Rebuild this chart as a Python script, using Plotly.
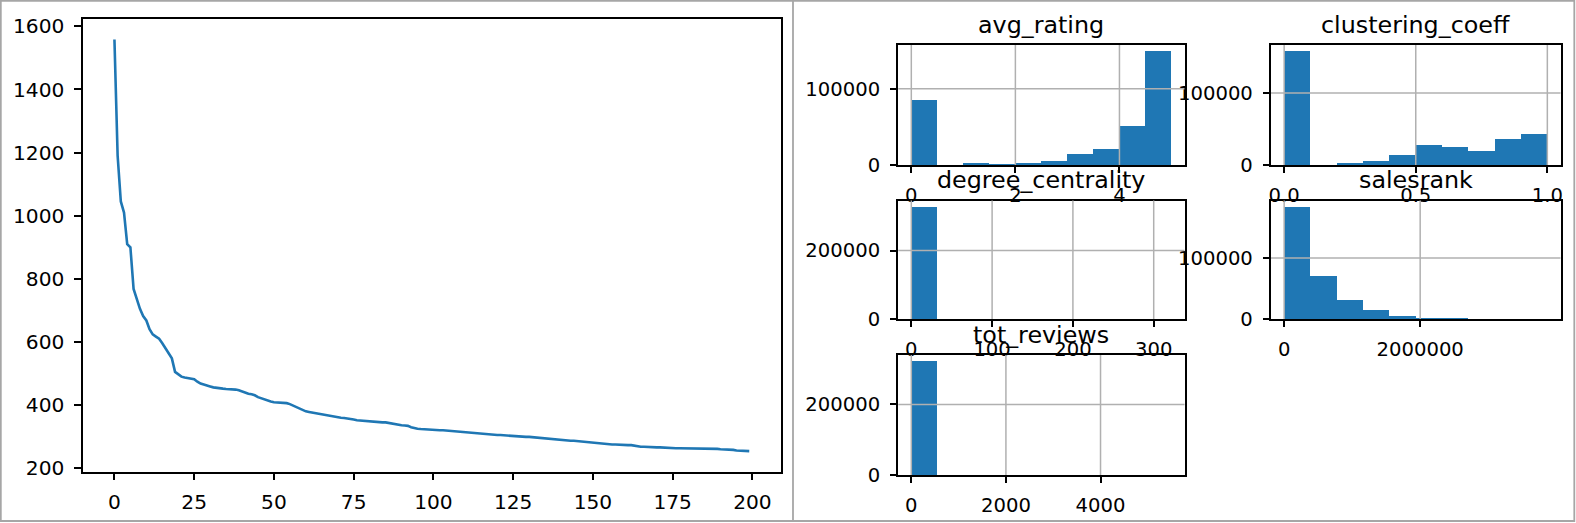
import plotly.graph_objects as go

# ---------------- data ----------------
line_x = list(range(200))
line_y = [
    1558, 1190, 1045, 1010, 910, 900, 768, 735, 705, 682,
    668, 640, 624, 617, 610, 596, 580, 566, 548, 505,
    498, 490, 487, 486, 485, 482, 474, 468, 465, 463,
    459, 456, 454, 453, 452, 451, 451, 450, 449, 447,
    443, 438, 436, 434, 431, 425, 421, 417, 413, 411,
    409, 408, 408, 408, 406, 403, 398, 393, 388, 383,
    380, 378, 376, 374, 373, 371, 369, 367, 364, 362,
    361, 360, 359, 358, 357, 354, 352, 351, 350, 348,
    347, 346, 345, 345, 345, 345, 343, 340, 339, 338,
    336, 335, 334, 330, 327, 325, 324, 323, 323, 322,
    321, 321, 320, 320, 319, 318, 317, 316, 315, 314,
    313, 312, 311, 310, 309, 308, 308, 307, 307, 306,
    305, 305, 304, 303, 302, 302, 301, 300, 300, 299,
    299, 298, 298, 297, 296, 295, 293, 292, 290, 289,
    289, 288, 288, 287, 287, 286, 284, 282, 281, 280,
    279, 278, 277, 277, 276, 276, 275, 275, 274, 274,
    274, 273, 273, 271, 269, 268, 268, 267, 267, 266,
    266, 266, 265, 265, 264, 264, 263, 263, 263, 262,
    262, 262, 262, 262, 262, 261, 261, 261, 261, 261,
    260, 260, 260, 259, 258, 256, 256, 255, 255, 254,
]
line_xticks = [0, 25, 50, 75, 100, 125, 150, 175, 200]
line_yticks = [200, 400, 600, 800, 1000, 1200, 1400, 1600]

hist_names = ["avg_rating", "clustering_coeff", "degree_centrality", "salesrank", "tot_reviews"]
hist_min = [0, 0, 0, 0, 0]
hist_max = [5, 1, 322, 3870000, 5500]
avg_rating_counts = [85600, 0, 2500, 300, 2600, 5200, 13900, 20900, 51700, 150000]
clustering_coeff_counts = [159000, 0, 3200, 5500, 14300, 27700, 25300, 19400, 36000, 43800]
degree_centrality_counts = [330000, 0, 0, 0, 0, 0, 0, 0, 0, 0]
salesrank_counts = [185000, 71000, 32200, 16100, 6100, 2800, 2500, 0, 0, 0]
tot_reviews_counts = [324000, 0, 0, 0, 0, 0, 0, 0, 0, 0]
hist_counts = [avg_rating_counts, clustering_coeff_counts, degree_centrality_counts,
               salesrank_counts, tot_reviews_counts]
hist_xticks = [[0, 2, 4], [0.0, 0.5, 1.0], [0, 100, 200, 300], [0, 2000000], [0, 2000, 4000]]
hist_yticks = [[0, 100000], [0, 100000], [0, 200000], [0, 100000], [0, 200000]]
hist_xfmt = ["d", ".1f", "d", "d", "d"]

# ---------------- layout geometry (pixels) ----------------
W, H = 1576, 523
BLUE = "#1f77b4"
FONT = "DejaVu Sans"
LEFT_TICKFS = 20.2
TICKFS = 19.6
TITLEFS = 23.8


def xd(a, b):
    return [a / W, b / W]


def yd(top, bottom):
    return [1 - bottom / H, 1 - top / H]


main_dom = (xd(82.7, 781), yd(19, 471.7))
hist_doms = [
    (xd(898.3, 1184.5), yd(45, 165)),
    (xd(1271, 1560.5), yd(45, 165)),
    (xd(898.3, 1184.5), yd(200.5, 319)),
    (xd(1271, 1560.5), yd(200.5, 319)),
    (xd(898.3, 1184.5), yd(355, 475)),
]

fig = go.Figure()

axis_common = dict(
    showline=True, linecolor="black", linewidth=1.5, mirror=True,
    ticks="outside", ticklen=6.5, tickwidth=1.5, tickcolor="black",
    zeroline=False, showgrid=False, automargin=False,
)
left_font = dict(family=FONT, size=LEFT_TICKFS, color="black")
right_font = dict(family=FONT, size=TICKFS, color="black")

# main line plot
fig.add_trace(go.Scatter(x=line_x, y=line_y, mode="lines",
                         line=dict(color=BLUE, width=2.6),
                         xaxis="x", yaxis="y", showlegend=False))
ymin, ymax = min(line_y), max(line_y)
xr = [line_x[0] - 0.05 * (line_x[-1] - line_x[0]), line_x[-1] + 0.05 * (line_x[-1] - line_x[0])]
yr = [ymin - 0.05 * (ymax - ymin), ymax + 0.05 * (ymax - ymin)]
layout = dict(
    xaxis=dict(domain=main_dom[0], anchor="y", range=xr, tickvals=line_xticks,
               ticklabelstandoff=5, tickfont=left_font, **axis_common),
    yaxis=dict(domain=main_dom[1], anchor="x", range=yr, tickvals=line_yticks,
               ticklabelstandoff=6, tickfont=left_font, **axis_common),
)

shapes = []
annotations = []
for i, name in enumerate(hist_names):
    k = i + 2
    xa, ya = f"x{k}", f"y{k}"
    lo, hi = hist_min[i], hist_max[i]
    counts = hist_counts[i]
    n = len(counts)
    w = (hi - lo) / n
    centers = [lo + w * (j + 0.5) for j in range(n)]
    fig.add_trace(go.Bar(x=centers, y=counts, width=[w] * n,
                         marker=dict(color=BLUE, line=dict(width=0)),
                         xaxis=xa, yaxis=ya, showlegend=False))
    xrange_ = [lo - 0.05 * (hi - lo), hi + 0.05 * (hi - lo)]
    yrange_ = [0, 1.05 * max(counts)]
    layout[f"xaxis{k}"] = dict(domain=hist_doms[i][0], anchor=ya, range=xrange_,
                               tickvals=hist_xticks[i], tickformat=hist_xfmt[i],
                               ticklabelstandoff=5, tickfont=right_font, **axis_common)
    layout[f"yaxis{k}"] = dict(domain=hist_doms[i][1], anchor=xa, range=yrange_,
                               tickvals=hist_yticks[i], tickformat="d",
                               ticklabelstandoff=6, tickfont=right_font, **axis_common)
    # grid lines drawn above bars (matplotlib default)
    for t in hist_xticks[i]:
        if xrange_[0] <= t <= xrange_[1]:
            shapes.append(dict(type="line", xref=xa, yref=f"{ya} domain", x0=t, x1=t, y0=0, y1=1,
                               line=dict(color="#b0b0b0", width=1.5), layer="above"))
    for t in hist_yticks[i]:
        if yrange_[0] < t <= yrange_[1]:
            shapes.append(dict(type="line", xref=f"{xa} domain", yref=ya, x0=0, x1=1, y0=t, y1=t,
                               line=dict(color="#b0b0b0", width=1.5), layer="above"))
    annotations.append(dict(text=name, xref=f"{xa} domain", yref=f"{ya} domain",
                            x=0.5, y=1, xanchor="center", yanchor="bottom", yshift=4,
                            showarrow=False,
                            font=dict(family=FONT, size=TITLEFS, color="black")))

# image frame borders
shapes.append(dict(type="rect", xref="paper", yref="paper", x0=0.8 / W, x1=1574.3 / W,
                   y0=1 - 521 / H, y1=1 - 0.8 / H, line=dict(color="#a6a6a6", width=1.8), layer="above"))
shapes.append(dict(type="line", xref="paper", yref="paper", x0=793 / W, x1=793 / W,
                   y0=1 - 521 / H, y1=1 - 0.8 / H, line=dict(color="#a6a6a6", width=1.8), layer="above"))

fig.update_layout(
    template="none",
    width=W, height=H,
    margin=dict(l=0, r=0, t=0, b=0, pad=0),
    paper_bgcolor="white", plot_bgcolor="white",
    font=dict(family=FONT, size=TICKFS, color="black"),
    bargap=0,
    shapes=shapes, annotations=annotations,
    **layout,
)

fig.write_html(
    "out.html",
    config={"displayModeBar": False},
    post_script="document.body.style.margin='0';document.body.style.padding='0';"
                "document.body.style.overflow='hidden';",
)
